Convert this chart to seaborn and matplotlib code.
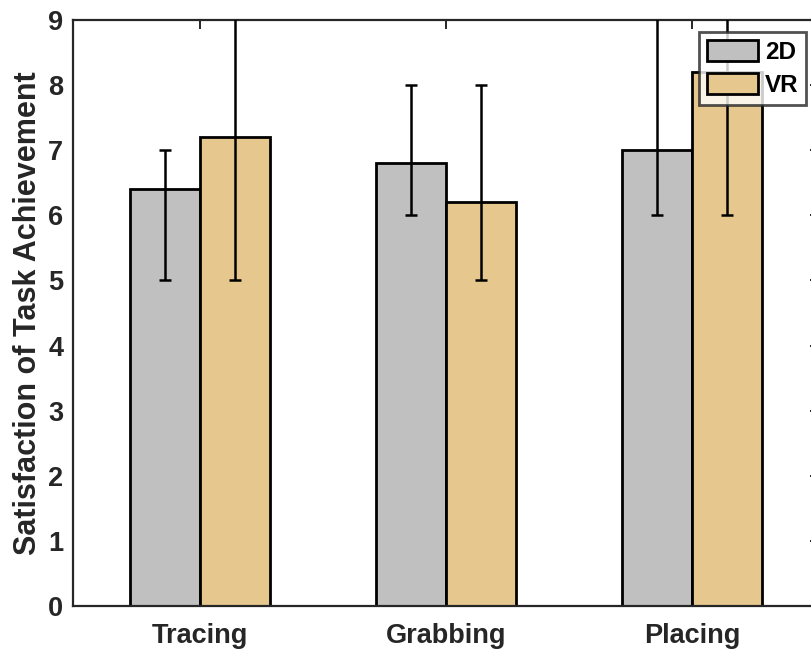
import numpy as np
import pandas as pd
import matplotlib
matplotlib.use("Agg")
import matplotlib.pyplot as plt
import seaborn as sns

tasks = ["Tracing", "Grabbing", "Placing"]
groups = ["2D", "VR"]
scores_2d = [6.4, 6.8, 7.0]
scores_vr = [7.2, 6.2, 8.2]
lower_2d = [5.0, 6.0, 6.0]
upper_2d = [7.0, 8.0, 9.6]
lower_vr = [5.0, 5.0, 6.0]
upper_vr = [9.4, 8.0, 10.0]
yticks = [0, 1, 2, 3, 4, 5, 6, 7, 8, 9]

colors = {"2D": "#C0C0C0", "VR": "#E6C88F"}
axis_color = "#262626"

sns.set_theme(style="white")
plt.rcParams["font.family"] = ["Liberation Sans", "DejaVu Sans"]
plt.rcParams["font.weight"] = "bold"

df = pd.DataFrame({
    "task": tasks * 2,
    "group": ["2D"] * 3 + ["VR"] * 3,
    "score": scores_2d + scores_vr,
})

fig = plt.figure(figsize=(8.12, 6.56), dpi=100)
ax = fig.add_axes([73 / 812, 1 - 606 / 656, 746 / 812, 586 / 656])

sns.barplot(data=df, x="task", y="score", hue="group", order=tasks,
            hue_order=groups, palette=colors, errorbar=None,
            width=0.569, gap=0, edgecolor="black", linewidth=2.0,
            saturation=1, ax=ax)

# asymmetric error bars placed at each bar's center
lows = {"2D": lower_2d, "VR": lower_vr}
highs = {"2D": upper_2d, "VR": upper_vr}
vals = {"2D": scores_2d, "VR": scores_vr}
for container, g in zip(ax.containers, groups):
    xs = [p.get_x() + p.get_width() / 2 for p in container.patches]
    v = np.array(vals[g])
    err = [v - np.array(lows[g]), np.array(highs[g]) - v]
    ax.errorbar(xs, v, yerr=err, fmt="none", ecolor="black",
                elinewidth=1.8, capsize=4, capthick=1.8, zorder=5)

ax.set_xlim(-0.5163, 2.5163)
ax.set_ylim(0, 9)
ax.set_yticks(yticks)
ax.set_xlabel("")
ax.set_ylabel("Satisfaction of Task Achievement", fontsize=22,
              fontweight="bold", color=axis_color, labelpad=4)

for s in ax.spines.values():
    s.set_visible(True)
    s.set_color(axis_color)
    s.set_linewidth(1.6)

ax.tick_params(axis="both", which="both", direction="in", length=6.5,
               width=1.4, color=axis_color, labelsize=19.5,
               labelcolor=axis_color, top=True, right=True)
ax.tick_params(axis="x", pad=12)
ax.tick_params(axis="y", pad=7)
for lab in ax.get_xticklabels() + ax.get_yticklabels():
    lab.set_fontweight("bold")

leg = ax.legend(loc="upper right", bbox_to_anchor=(0.9826, 0.9795),
                borderaxespad=0, frameon=True, fancybox=False,
                fontsize=17.5, handlelength=2.1, handleheight=0.95,
                handletextpad=0.28, borderpad=0.32, labelspacing=0.4,
                title=None)
leg.get_frame().set_edgecolor(axis_color)
leg.get_frame().set_linewidth(2.0)
for t in leg.get_texts():
    t.set_fontweight("bold")
    t.set_color("black")
for h in leg.legend_handles:
    h.set_edgecolor("black")
    h.set_linewidth(2.0)

fig.savefig("out.png", dpi=100)
